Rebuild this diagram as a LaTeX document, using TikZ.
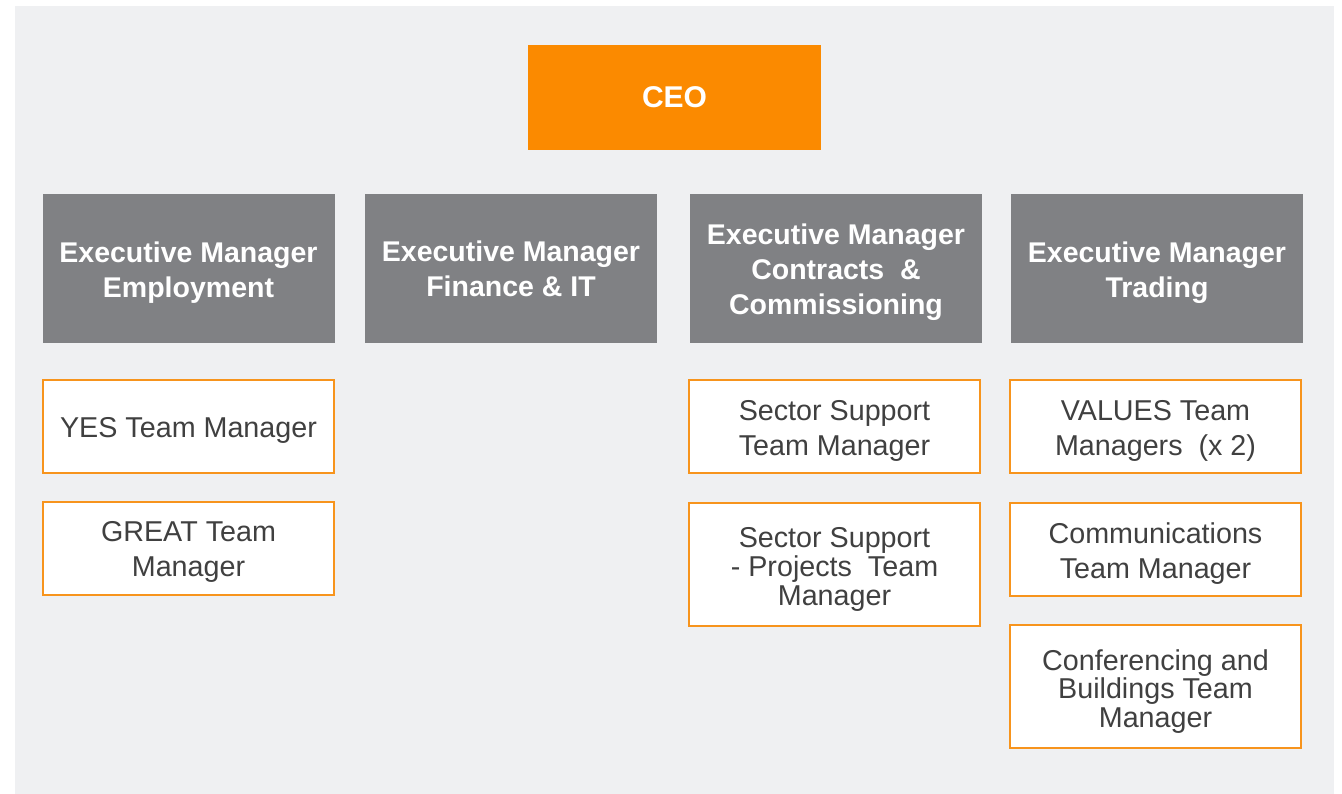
\documentclass[tikz,border=0pt]{standalone}
\usepackage{fontspec}
\setmainfont{Liberation Sans}
\definecolor{bgc}{HTML}{EFF0F2}
\definecolor{ceoc}{HTML}{FB8A00}
\definecolor{grayc}{HTML}{808184}
\definecolor{edgec}{HTML}{F7941D}
\definecolor{txtc}{HTML}{404040}
\tikzset{
  ceobox/.style={fill=ceoc, draw=none, inner sep=0pt, minimum width=292.5pt, minimum height=104.5pt,
    text=white, font=\fontsize{30}{35}\selectfont\bfseries},
  exbox/.style={fill=grayc, draw=none, inner sep=0pt, minimum width=292pt, minimum height=149pt},
  extext/.style={inner sep=0pt, yshift=-4pt, text=white, align=center, font=\fontsize{28.5}{35}\selectfont\bfseries},
  teambox/.style={fill=white, draw=edgec, line width=2pt, inner sep=0pt, minimum width=291pt, minimum height=93pt},
  tallbox/.style={teambox, minimum height=123pt},
  teamtext/.style={inner sep=0pt, yshift=-4pt, text=txtc, align=center, font=\fontsize{28.7}{35}\selectfont},
  talltext/.style={teamtext, yshift=-1pt, font=\fontsize{28.7}{28.7}\selectfont}
}
\begin{document}
\begin{tikzpicture}[x=1pt,y=-1pt]
\useasboundingbox (0,0) rectangle (1342,794);
\fill[bgc] (14.7,6) rectangle (1334,794);
\node[ceobox] (ceo) at (674.5,97.3) {CEO};
\node[exbox] (e1) at (188.5,268.5) {};
\node[exbox] (e2) at (511,268.5) {};
\node[exbox] (e3) at (836,268.5) {};
\node[exbox] (e4) at (1157,268.5) {};
\node[extext] (e1t) at (e1.center) {Executive Manager\\Employment};
\node[extext, yshift=4pt] (e2t) at (e2.center) {Executive Manager\\Finance \& IT};
\node[extext] (e3t) at (e3.center) {Executive Manager\\Contracts~ \&\\Commissioning};
\node[extext] (e4t) at (e4.center) {Executive Manager\\Trading};
\node[teambox] (yes) at (188.5,426.5) {};
\node[teambox] (great) at (188.5,548) {};
\node[teambox] (ss) at (834.5,426.5) {};
\node[tallbox] (ssp) at (834.5,564.5) {};
\node[teambox] (val) at (1155.5,426.5) {};
\node[teambox] (com) at (1155.5,549.5) {};
\node[tallbox] (conf) at (1155.5,686.5) {};
\node[teamtext] (yest) at (yes.center) {YES Team Manager};
\node[teamtext] (greatt) at (great.center) {GREAT Team\\Manager};
\node[teamtext] (sst) at (ss.center) {Sector Support\\Team Manager};
\node[talltext] (sspt) at (ssp.center) {Sector Support\\- Projects~ Team\\Manager};
\node[teamtext] (valt) at (val.center) {VALUES Team\\Managers~ (x 2)};
\node[teamtext] (comt) at (com.center) {Communications\\Team Manager};
\node[talltext] (conft) at (conf.center) {Conferencing and\\Buildings Team\\Manager};
\end{tikzpicture}
\end{document}
